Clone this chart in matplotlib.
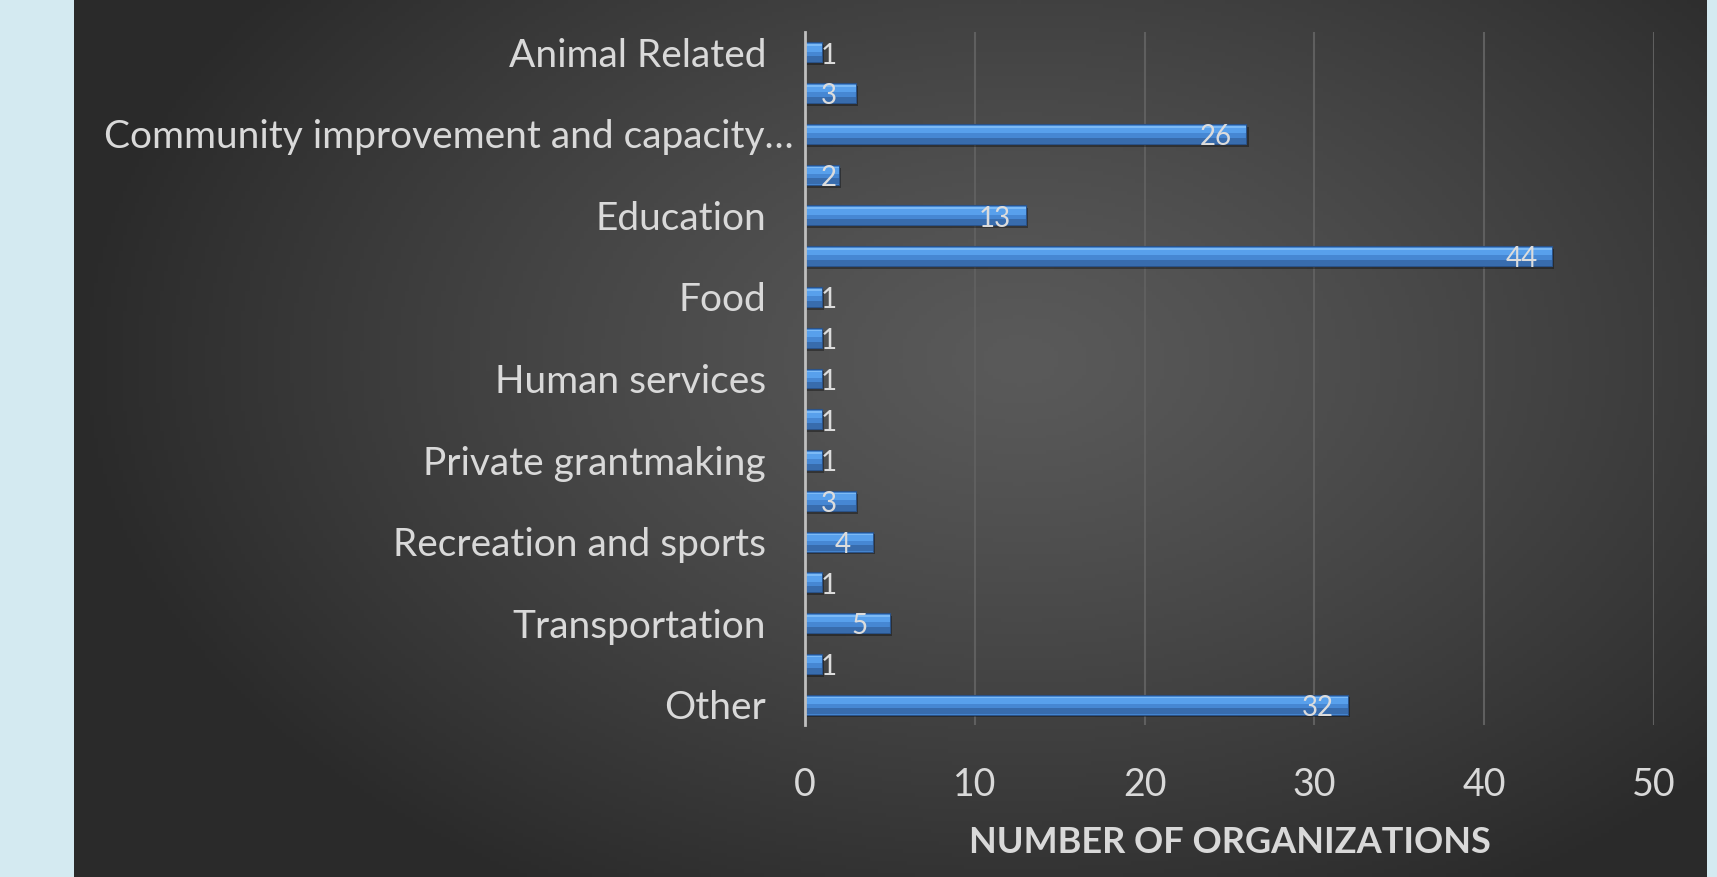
import numpy as np
import matplotlib
matplotlib.use("Agg")
import matplotlib.pyplot as plt
from matplotlib.transforms import offset_copy

# Categories top to bottom (only every other label is printed on the chart)
categories = [
    "Animal Related",
    "Arts, culture and humanities",
    "Community improvement and capacity building",
    "Crime and legal related",
    "Education",
    "Environment",
    "Food",
    "Health",
    "Human services",
    "International",
    "Private grantmaking",
    "Public and societal benefit",
    "Recreation and sports",
    "Religion related",
    "Transportation",
    "Youth development",
    "Other",
]
counts = [1, 3, 26, 2, 13, 44, 1, 1, 1, 1, 1, 3, 4, 1, 5, 1, 32]
x_ticks = [0, 10, 20, 30, 40, 50]
x_title = "NUMBER OF ORGANIZATIONS"


def short(name, n=34):
    return name if len(name) <= n else name[:n].rstrip() + "\u2026"


plt.rcParams['font.family'] = ['Lato', 'DejaVu Sans']

W, H = 1717, 877
fig = plt.figure(figsize=(W / 100, H / 100), dpi=100)
fig.patch.set_facecolor("#d4eaf1")

# dark slide background with a soft radial glow
bg = fig.add_axes([74 / W, 0, (1706 - 74) / W, 1])
bg.set_axis_off()
gx, gy = np.meshgrid(np.linspace(74, 1706, 400), np.linspace(0, H, 220))
d = np.sqrt(((gx - 1020) / 950) ** 2 + ((gy - 360) / 620) ** 2)
t = np.clip(d, 0, 1) ** 1.2
light, dark = np.array([0x5a, 0x5a, 0x5a]) / 255, np.array([0x2a, 0x2a, 0x2a]) / 255
img = light[None, None, :] * (1 - t[..., None]) + dark[None, None, :] * t[..., None]
bg.imshow(img, aspect="auto", extent=[0, 1, 0, 1], origin="upper")
bg.set_xlim(0, 1)
bg.set_ylim(0, 1)

ax = fig.add_axes([805 / W, 1 - 725 / H, (1654 - 805) / W, (725 - 32) / H])
ax.set_facecolor("none")

y = np.arange(len(categories))
h = 0.49

# shadow, body, highlight and dark lower band give the bevelled look
ax.barh(y + 0.07, counts, height=h, left=0.12, color="black", alpha=0.35, zorder=2)
ax.barh(y, counts, height=h, color="#4687d3", edgecolor="#2a5288", linewidth=0.8, zorder=3)
ax.barh(y - h * 0.22, counts, height=h * 0.36, color="#58a0ec", zorder=4)
ax.barh(y - h * 0.36, counts, height=h * 0.08, color="#7cbaf6", zorder=4)
ax.barh(y + h * 0.34, counts, height=h * 0.3, color="#386cad", zorder=4)

for yi, v in zip(y, counts):
    ax.text(max(v - 1.8, 1.4), yi + 0.08, str(v), color="#dcdcdc", fontsize=20,
            ha="center", va="center", zorder=6)

ax.set_xlim(0, 50)
ax.set_ylim(len(categories) - 0.5, -0.5)
ax.set_xticks(x_ticks)
ax.set_xticklabels([str(v) for v in x_ticks])
ax.set_yticks(y[::2])
ax.set_yticklabels([short(c) for c in categories[::2]])
ax.tick_params(axis="y", length=0, pad=28, labelsize=28, labelcolor="#d9d9d9")
ax.tick_params(axis="x", length=0, pad=30, labelsize=27, labelcolor="#d9d9d9")

# the truncated label runs past the others, as in the original
for lab, c in zip(ax.get_yticklabels(), categories[::2]):
    if short(c) != c:
        lab.set_transform(offset_copy(lab.get_transform(), fig=fig, x=28, units="dots"))

ax.grid(axis="x", color="#5f5f5f", linewidth=1.5, zorder=0)
ax.set_axisbelow(True)
for s in ["top", "right", "bottom"]:
    ax.spines[s].set_visible(False)
ax.spines["left"].set_color("#bfbfbf")
ax.spines["left"].set_linewidth(2)
ax.spines["left"].set_zorder(5)

ax.set_xlabel(x_title, fontsize=26, fontweight="bold", color="#d9d9d9", labelpad=17)

fig.savefig("out.png", dpi=100, facecolor=fig.get_facecolor())
